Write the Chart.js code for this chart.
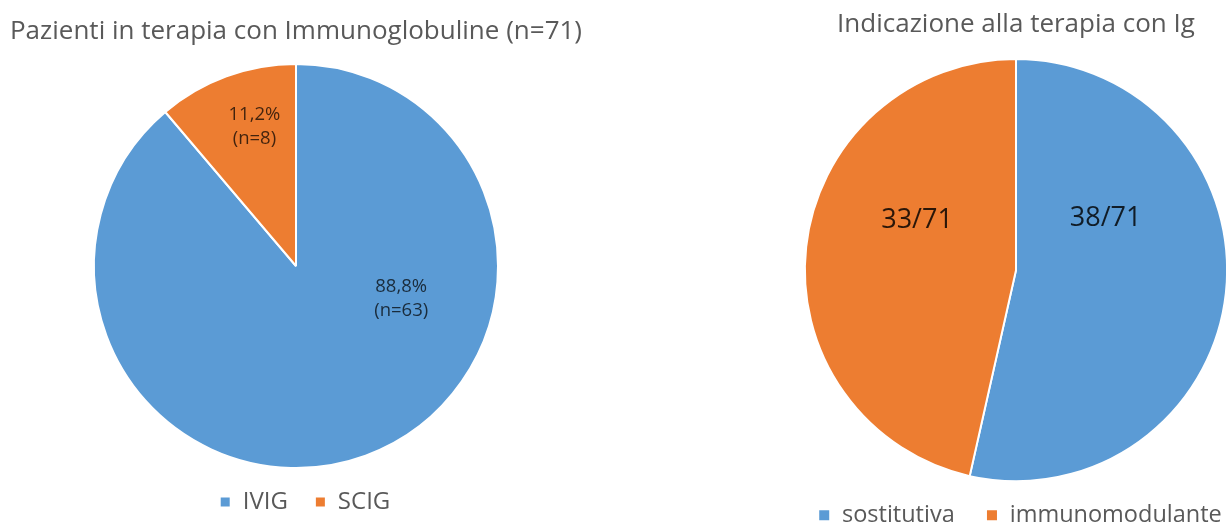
<!DOCTYPE html>
<html lang="it">
<head>
<meta charset="utf-8">
<title>Terapia con Immunoglobuline</title>
<script src="https://cdn.jsdelivr.net/npm/chart.js@4.4.1/dist/chart.umd.min.js"></script>
<style>
  html, body { margin: 0; padding: 0; background: #ffffff; overflow: hidden; }
  #page { position: relative; width: 1226px; height: 529px; overflow: hidden; background: #ffffff; }
  #leftChart { position: absolute; left: 0; top: 0; }
  #rightChart { position: absolute; left: 700px; top: 0; }
</style>
</head>
<body>
<div id="page">
  <canvas id="leftChart" width="592" height="530"></canvas>
  <canvas id="rightChart" width="632" height="547"></canvas>
</div>
<script>
// Pie 1: modalità di somministrazione
const viaCategories = ['IVIG', 'SCIG'];
const viaPercent = [88.8, 11.2];
const viaCounts = [63, 8];

// Pie 2: indicazione alla terapia
const indicCategories = ['sostitutiva', 'immunomodulante'];
const indicCounts = [38, 33];
const indicTotal = 71;

const BLUE = '#5B9BD5';
const ORANGE = '#ED7D31';
const TEXT_GREY = '#595959';
const FONT = "'Open Sans', 'Noto Sans', sans-serif";

// Draws multi-line labels inside each slice, placed by angle (deg, clockwise from top)
// and by a fraction of the pie radius.
const sliceLabels = {
  id: 'sliceLabels',
  afterDatasetsDraw(chart, args, opts) {
    const meta = chart.getDatasetMeta(0);
    if (!meta.data.length) return;
    const { x, y, outerRadius } = meta.data[0];
    const ctx = chart.ctx;
    ctx.save();
    ctx.font = `${opts.size}px ${FONT}`;
    ctx.fillStyle = opts.color;
    ctx.textAlign = 'center';
    ctx.textBaseline = 'middle';
    opts.lines.forEach((lines, i) => {
      const a = opts.angle[i] * Math.PI / 180;
      const r = opts.radius[i] * outerRadius;
      const cx = x + Math.sin(a) * r;
      const cy = y - Math.cos(a) * r;
      const top = cy - (lines.length - 1) * opts.lineGap / 2;
      lines.forEach((t, k) => ctx.fillText(t, cx, top + k * opts.lineGap));
    });
    ctx.restore();
  }
};

// Moves the legend box after layout, so item spacing and pie size stay independent.
const legendNudge = {
  id: 'legendNudge',
  afterLayout(chart, args, opts) {
    const lg = chart.legend;
    if (!lg) return;
    lg.left += opts.dx; lg.right += opts.dx;
    lg.top += opts.dy; lg.bottom += opts.dy;
  }
};

const fmtPct = v => v.toFixed(1).replace('.', ',') + '%';

new Chart(document.getElementById('leftChart'), {
  type: 'pie',
  data: {
    labels: viaCategories,
    datasets: [{
      data: viaPercent,
      backgroundColor: [BLUE, ORANGE],
      borderColor: '#ffffff',
      borderWidth: 2
    }]
  },
  plugins: [sliceLabels, legendNudge],
  options: {
    responsive: false,
    animation: false,
    devicePixelRatio: 1,
    layout: { padding: 0 },
    plugins: {
      tooltip: { enabled: false },
      title: {
        display: true,
        text: 'Pazienti in terapia con Immunoglobuline (n=71)',
        color: TEXT_GREY,
        font: { family: FONT, size: 26, weight: 'normal' },
        padding: { top: 16.4, bottom: 15.4 }
      },
      legend: {
        position: 'bottom',
        labels: {
          color: TEXT_GREY,
          font: { family: FONT, size: 24 },
          boxWidth: 11,
          boxHeight: 11,
          padding: 27
        }
      },
      legendNudge: { dx: 9, dy: -6 },
      sliceLabels: {
        size: 18.5,
        color: 'rgba(0,0,0,0.72)',
        lineGap: 24,
        angle: [107.2, 343.4],
        radius: [0.545, 0.72],
        lines: viaPercent.map((p, i) => [fmtPct(p), `(n=${viaCounts[i]})`])
      }
    }
  }
});

new Chart(document.getElementById('rightChart'), {
  type: 'pie',
  data: {
    labels: indicCategories,
    datasets: [{
      data: indicCounts,
      backgroundColor: [BLUE, ORANGE],
      borderColor: '#ffffff',
      borderWidth: 2
    }]
  },
  plugins: [sliceLabels, legendNudge],
  options: {
    responsive: false,
    animation: false,
    devicePixelRatio: 1,
    layout: { padding: 0 },
    plugins: {
      tooltip: { enabled: false },
      title: {
        display: true,
        text: 'Indicazione alla terapia con Ig',
        color: TEXT_GREY,
        font: { family: FONT, size: 26, weight: 'normal' },
        padding: { top: 9.4, bottom: 17.4 }
      },
      legend: {
        position: 'bottom',
        labels: {
          color: TEXT_GREY,
          font: { family: FONT, size: 23.5 },
          boxWidth: 12,
          boxHeight: 12,
          padding: 31.25
        }
      },
      legendNudge: { dx: 4, dy: -10 },
      sliceLabels: {
        size: 27,
        color: 'rgba(0,0,0,0.82)',
        lineGap: 30,
        angle: [60, 296.8],
        radius: [0.49, 0.525],
        lines: indicCounts.map(c => [`${c}/${indicTotal}`])
      }
    }
  }
});
</script>
</body>
</html>
